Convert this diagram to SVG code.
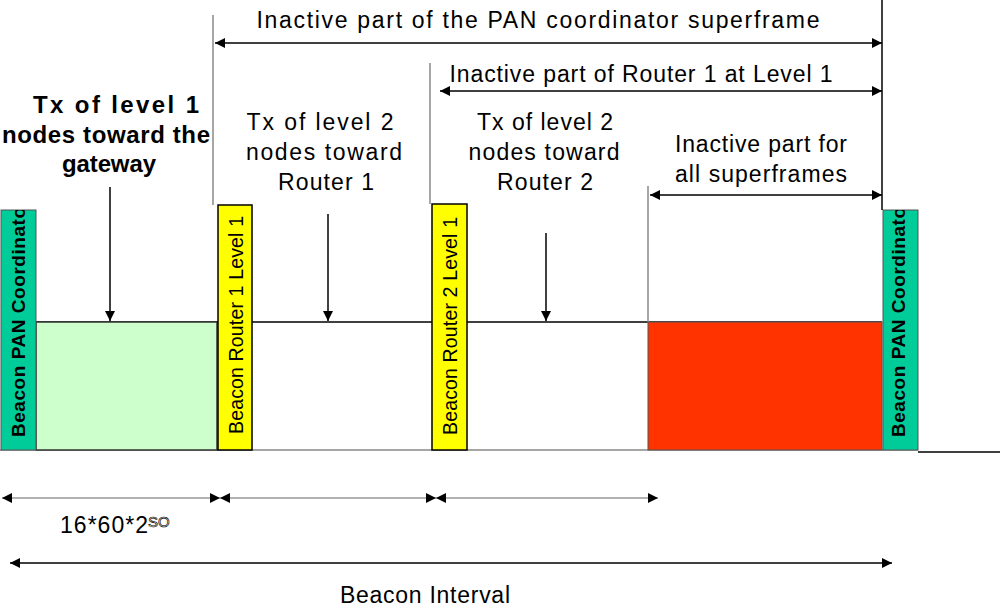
<svg xmlns="http://www.w3.org/2000/svg" width="1000" height="609" viewBox="0 0 1000 609">
<style>
text{font-family:"Liberation Sans",Arial,sans-serif;fill:#000}
.t{font-size:23px}
.b{font-size:24px;font-weight:bold}
.vb{font-size:19px;font-weight:bold}
.vy{font-size:19.5px}
.g{stroke:#888;stroke-width:1.5;fill:none}
.k{stroke:#000;stroke-width:1.5;fill:none}
.a{stroke:#000;stroke-width:1.5;fill:none;marker-start:url(#h);marker-end:url(#h)}
.ag{stroke:#999;stroke-width:1.5;fill:none;marker-start:url(#h);marker-end:url(#h)}
.d{stroke:#000;stroke-width:1.5;fill:none;marker-end:url(#h)}
</style>
<defs>
<marker id="h" viewBox="0 0 10 10" refX="10" refY="5" markerWidth="11" markerHeight="10" markerUnits="userSpaceOnUse" orient="auto-start-reverse">
<path d="M0,0 L10,5 L0,10 z" fill="#000"/>
</marker>
<clipPath id="c1"><rect x="1" y="210" width="35" height="240"/></clipPath>
<clipPath id="c2"><rect x="883" y="210" width="35" height="240"/></clipPath>
</defs>
<rect width="1000" height="609" fill="#fff"/>

<g id="base">
<line class="g" x1="0" y1="450" x2="918" y2="450"/>
<line class="k" x1="918" y1="452" x2="1000" y2="452"/>
<line class="k" x1="36" y1="322" x2="882" y2="322"/>
</g>

<g id="active-level1">
<rect x="36" y="322" width="181" height="128" fill="#ccffcc" stroke="#333" stroke-width="1.5"/>
</g>
<g id="inactive-all">
<rect x="648" y="322" width="234" height="128" fill="#ff3300" stroke="#555" stroke-width="1"/>
</g>

<g id="beacon-pan-left">
<rect x="1" y="210" width="35" height="240" fill="#00cc99" stroke="#555" stroke-width="1"/>
<g clip-path="url(#c1)"><text class="vb" transform="translate(25,437) rotate(-90)" textLength="238" lengthAdjust="spacing">Beacon PAN Coordinator</text></g>
</g>
<g id="beacon-router1">
<rect x="218" y="205" width="34" height="245" fill="#ffff00" stroke="#000" stroke-width="1.5"/>
<text class="vy" transform="translate(243,434) rotate(-90)" textLength="218" lengthAdjust="spacing">Beacon Router 1 Level 1</text>
</g>
<g id="beacon-router2">
<rect x="432" y="204" width="35" height="246" fill="#ffff00" stroke="#000" stroke-width="1.5"/>
<text class="vy" transform="translate(457,435) rotate(-90)" textLength="218" lengthAdjust="spacing">Beacon Router 2 Level 1</text>
</g>
<g id="beacon-pan-right">
<rect x="883" y="210" width="35" height="240" fill="#00cc99" stroke="#555" stroke-width="1"/>
<g clip-path="url(#c2)"><text class="vb" transform="translate(905,437) rotate(-90)" textLength="238" lengthAdjust="spacing">Beacon PAN Coordinator</text></g>
</g>

<g id="labels">
<text class="b" x="116" y="113" text-anchor="middle" textLength="166" lengthAdjust="spacing">Tx of level 1</text>
<text class="b" x="106" y="143" text-anchor="middle" textLength="208" lengthAdjust="spacing">nodes toward the</text>
<text class="b" x="109" y="172" text-anchor="middle" textLength="94" lengthAdjust="spacing">gateway</text>
<text class="t" x="320" y="130" text-anchor="middle" textLength="147" lengthAdjust="spacing">Tx of level 2</text>
<text class="t" x="324" y="160" text-anchor="middle" textLength="156" lengthAdjust="spacing">nodes toward</text>
<text class="t" x="326" y="190" text-anchor="middle" textLength="96" lengthAdjust="spacing">Router 1</text>
<text class="t" x="545" y="130" text-anchor="middle" textLength="136" lengthAdjust="spacing">Tx of level 2</text>
<text class="t" x="544" y="160" text-anchor="middle" textLength="151" lengthAdjust="spacing">nodes toward</text>
<text class="t" x="545" y="190" text-anchor="middle" textLength="96" lengthAdjust="spacing">Router 2</text>
<text class="t" x="538" y="28" text-anchor="middle" textLength="563" lengthAdjust="spacing">Inactive part of the PAN coordinator superframe</text>
<text class="t" x="641" y="82" text-anchor="middle" textLength="383" lengthAdjust="spacing">Inactive part of Router 1 at Level 1</text>
<text class="t" x="761" y="152" text-anchor="middle" textLength="172" lengthAdjust="spacing">Inactive part for</text>
<text class="t" x="761" y="182" text-anchor="middle" textLength="172" lengthAdjust="spacing">all superframes</text>
<text class="t" x="60" y="533" textLength="88" lengthAdjust="spacing">16*60*2</text>
<text x="148" y="527" font-size="15" stroke="#000" stroke-width="0.7" style="fill:#fff">SO</text>
<text class="t" x="425" y="603" text-anchor="middle" textLength="170" lengthAdjust="spacing">Beacon Interval</text>
</g>

<g id="connectors">
<line class="g" x1="213" y1="15" x2="213" y2="205"/>
<line class="g" x1="430" y1="63" x2="430" y2="204"/>
<line class="g" x1="648" y1="186" x2="648" y2="322"/>
<line class="k" x1="882" y1="0" x2="882" y2="210"/>
<line class="a" x1="215" y1="43" x2="882" y2="43"/>
<line class="a" x1="440" y1="91" x2="882" y2="91"/>
<line class="a" x1="650" y1="195" x2="882" y2="195"/>
<line class="d" x1="110" y1="187" x2="110" y2="321"/>
<line class="d" x1="328" y1="214" x2="328" y2="321"/>
<line class="d" x1="546" y1="233" x2="546" y2="321"/>
<line class="ag" x1="2" y1="498" x2="220" y2="498"/>
<line class="ag" x1="220" y1="498" x2="436" y2="498"/>
<line class="ag" x1="436" y1="498" x2="658" y2="498"/>
<line class="a" x1="10" y1="563" x2="892" y2="563"/>
</g>
</svg>
